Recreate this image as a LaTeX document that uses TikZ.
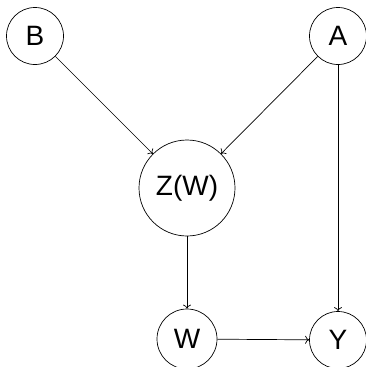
\documentclass[tikz,border=0pt]{standalone}
\usepackage{fontspec}
\setmainfont{Liberation Sans}
\usepackage{tikz}
\usetikzlibrary{
	positioning,    % posizione dei nodi
	arrows.meta     % punte di freccia
}

\begin{document}
\begin{tikzpicture}[>={To[length=4pt,width=8pt]}, x=1pt, y=-1pt, line width=0.7pt,
		var/.style={circle, draw, minimum size=57pt, inner sep=0pt, font=\fontsize{28}{30}\selectfont},
		bigvar/.style={var, minimum size=96pt}]
		% Area del disegno
		\useasboundingbox (0,0) rectangle (365,367);
		
		% --- Nodi ---
		\node[var] (B) at (35,36) {B};
		\node[var] (A) at (338,36) {A};
		\node[bigvar] (ZW) at (187,188) {Z(W)};
		\node[var, minimum size=60pt] (W) at (187,339) {W};
		\node[var] (Y) at (338,340) {Y};
		
		% --- Archi ---
		\draw[->] (B) -- (ZW);
		\draw[->] (A) -- (ZW);
		\draw[->] (A) -- (Y);
		\draw[->] (ZW) -- (W);
		\draw[->] (W) -- (Y);
	\end{tikzpicture}
\end{document}
